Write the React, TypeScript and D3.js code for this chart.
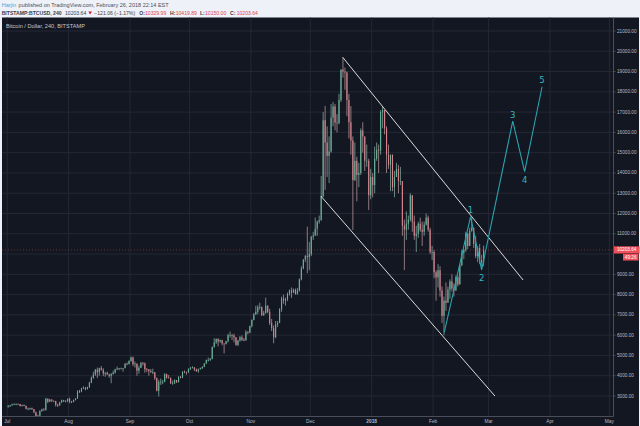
import React from "react";
import * as d3 from "d3";

// Daily candles: [high, low, close]; open = previous close
const firstOpen = 2480;
const jul17: [number, number, number][] = [
  [2560, 2420, 2500], [2560, 2460, 2540], [2620, 2520, 2590], [2640, 2560, 2600], [2630, 2540, 2610],
  [2630, 2570, 2600], [2610, 2480, 2510], [2570, 2490, 2560], [2580, 2500, 2510], [2530, 2340, 2370],
  [2430, 2300, 2380], [2420, 2310, 2400], [2430, 2320, 2350], [2360, 2150, 2200], [2230, 1980, 2010],
  [2080, 1960, 2030], [2300, 2010, 2260], [2380, 2220, 2330], [2400, 2270, 2300], [2900, 2290, 2870],
  [2880, 2650, 2720], [2860, 2700, 2820], [2840, 2700, 2760], [2780, 2700, 2750], [2760, 2480, 2560],
  [2620, 2460, 2540], [2720, 2520, 2680], [2820, 2670, 2790], [2810, 2710, 2740], [2790, 2680, 2760],
  [2880, 2700, 2860],
];
const aug17: [number, number, number][] = [
  [2920, 2640, 2720], [2760, 2650, 2710], [2830, 2690, 2800], [2900, 2780, 2880], [3280, 2860, 3230],
  [3300, 3150, 3220], [3400, 3180, 3380], [3480, 3340, 3410], [3440, 3280, 3340], [3460, 3320, 3430],
  [3700, 3410, 3660], [3960, 3630, 3900], [4200, 3850, 4060], [4330, 3990, 4300], [4400, 3890, 4170],
  [4400, 4000, 4370], [4480, 4250, 4290], [4370, 3980, 4110], [4190, 3950, 4140], [4200, 4040, 4060],
  [4100, 3900, 3990], [4130, 3630, 4080], [4250, 4060, 4150], [4340, 4110, 4310], [4450, 4280, 4360],
  [4380, 4270, 4340], [4400, 4310, 4360], [4380, 4200, 4380], [4620, 4360, 4590], [4650, 4520, 4570],
  [4760, 4560, 4730],
];
const sep17: [number, number, number][] = [
  [4950, 4690, 4900], [4940, 4470, 4570], [4700, 4400, 4600], [4600, 4000, 4250], [4490, 4100, 4390],
  [4680, 4380, 4620], [4680, 4500, 4610], [4650, 4150, 4320], [4380, 4180, 4310], [4320, 4000, 4230],
  [4330, 4150, 4170], [4350, 4080, 4170], [4180, 3790, 3880], [3920, 3230, 3260], [3800, 2980, 3700],
  [3860, 3550, 3700], [3790, 3580, 3700], [4120, 3680, 4080], [4100, 3850, 3910], [4040, 3860, 3880],
  [3920, 3600, 3610], [3760, 3560, 3620], [3820, 3600, 3790], [3790, 3640, 3680], [3980, 3670, 3930],
  [3990, 3870, 3890], [4220, 3880, 4200], [4260, 4120, 4190], [4200, 4050, 4160], [4360, 4150, 4340],
];
const oct17: [number, number, number][] = [
  [4420, 4280, 4400], [4470, 4360, 4410], [4430, 4230, 4310], [4360, 4190, 4220], [4350, 4150, 4320],
  [4400, 4300, 4370], [4460, 4330, 4440], [4620, 4420, 4600], [4800, 4580, 4770], [4900, 4700, 4770],
  [4870, 4730, 4830], [5440, 4810, 5420], [5850, 5380, 5640], [5830, 5560, 5820], [5840, 5450, 5690],
  [5780, 5620, 5750], [5770, 5500, 5590], [5590, 5100, 5570], [5720, 5540, 5700], [6070, 5640, 6000],
  [6180, 5880, 6010], [6060, 5760, 5980], [6070, 5650, 5900], [5900, 5480, 5520], [5760, 5460, 5740],
  [5960, 5680, 5890], [5990, 5710, 5770], [5860, 5700, 5750], [6250, 5720, 6150], [6200, 6040, 6130],
  [6470, 6100, 6450],
];
const nov17: [number, number, number][] = [
  [6780, 6380, 6750], [7100, 6730, 7030], [7450, 7000, 7150], [7480, 7030, 7380], [7600, 7260, 7380],
  [7420, 6950, 6980], [7200, 6960, 7100], [7850, 7060, 7460], [7460, 7080, 7140], [7300, 6500, 6600],
  [6800, 6200, 6340], [6480, 5600, 5900], [6700, 5850, 6530], [6700, 6400, 6600], [7330, 6600, 7280],
  [7900, 7150, 7810], [8000, 7550, 7710], [7850, 7460, 7780], [8100, 7680, 8040], [8250, 7950, 8200],
  [8350, 7840, 8100], [8300, 8080, 8240], [8300, 8000, 8030], [8330, 8000, 8200], [8800, 8150, 8750],
  [9400, 8700, 9290], [9750, 9250, 9730], [9950, 9600, 9900], [11350, 9060, 9850], [10600, 9200, 10000],
];
const dec17: [number, number, number][] = [
  [10900, 9900, 10850], [11100, 10700, 10910], [11800, 10900, 11250], [11650, 10900, 11600], [11900, 11500, 11670],
  [13850, 11650, 12850], [17000, 12800, 16600], [17300, 13160, 15500], [16300, 13800, 14840], [15800, 13500, 15060],
  [17400, 15000, 16730], [17500, 16300, 17280], [17400, 16100, 16480], [16900, 16000, 16460], [17900, 16400, 17600],
  [19100, 17500, 19100], [19700, 18700, 19000], [19200, 18100, 18950], [19000, 16800, 17600], [17900, 15700, 16500],
  [17300, 14900, 15600], [15800, 11190, 13650], [15500, 13600, 14600], [14800, 12600, 13900], [14500, 13300, 14000],
  [16200, 13900, 16100], [16500, 15000, 15800], [15800, 14100, 14600], [15400, 14300, 14600], [14700, 12170, 12900],
  [14200, 12700, 13800],
];
const jan18: [number, number, number][] = [
  [14000, 12800, 13400], [15300, 13000, 14700], [15500, 14600, 15150], [15400, 14000, 15100], [17100, 14900, 17000],
  [17250, 16200, 17100], [17100, 15900, 16200], [16300, 14000, 14900], [15400, 14200, 14400], [14900, 13100, 14900],
  [14900, 13100, 13300], [14100, 12800, 13800], [14500, 13800, 14200], [14400, 13000, 13600], [14300, 13400, 13600],
  [13600, 10900, 11400], [11700, 9210, 11200], [12100, 10700, 11500], [11900, 11200, 11700], [13000, 11600, 12900],
  [12900, 11100, 11600], [11900, 10700, 10900], [11400, 10100, 11000], [11600, 10800, 11500], [11800, 11100, 11200],
  [11600, 10400, 11100], [11600, 10900, 11450], [12000, 11400, 11800], [11900, 11100, 11200], [11300, 10000, 10100],
  [10400, 9700, 10100],
];
const feb18: [number, number, number][] = [
  [10200, 8800, 9100], [9200, 7700, 8850], [9500, 8350, 9200], [9400, 7900, 8200], [8400, 6600, 6950],
  [7900, 6000, 7700], [8600, 7200, 7600], [8400, 7600, 8250], [8750, 7800, 8650], [9000, 8150, 8300],
  [8550, 7900, 8200], [8950, 8200, 8850], [8950, 8400, 8500], [9500, 8500, 9450], [10200, 9400, 10050],
  [10250, 9750, 10200], [11100, 10100, 11000], [11050, 10250, 10400], [11300, 10400, 11150], [11800, 11100, 11300],
  [11300, 10300, 10500], [10900, 9800, 9900], [10400, 9600, 10300], [10500, 9500, 9700], [9950, 9300, 9600],
  [10420, 9400, 10203.64],
];

const priceTicks = [21000, 20000, 19000, 18000, 17000, 16000, 15000, 14000, 13000, 12000, 11000, 10000, 9000, 8000, 7000, 6000, 5000, 4000, 3000];
const monthTicks = ["2017-07-01", "2017-08-01", "2017-09-01", "2017-10-01", "2017-11-01", "2017-12-01", "2018-01-01", "2018-02-01", "2018-03-01", "2018-04-01", "2018-05-01"];
const monthLabels = ["Jul", "Aug", "Sep", "Oct", "Nov", "Dec", "2018", "Feb", "Mar", "Apr", "May"];

const upperChannel: [string, number][] = [["2017-12-17T10:00Z", 19700], ["2018-03-18T10:00Z", 8720]];
const lowerChannel: [string, number][] = [["2017-12-06T08:00Z", 12860], ["2018-03-04T05:00Z", 3000]];
const waveDates = ["2018-02-06T16:00Z", "2018-02-19T22:00Z", "2018-02-25T12:00Z", "2018-03-13T05:00Z", "2018-03-19T05:00Z", "2018-03-28T00:00Z"];
const wavePrices = [6150, 11850, 9215, 16560, 14060, 18250];
const waveLabels = ["", "1", "2", "3", "4", "5"];

const lastPrice = 10203.64;

export default function App() {
  const W = 640, H = 426;
  const panelTop = 17.5, axisY = 416.5, axisX = 613.5;
  const x = d3.scaleUtc().domain([new Date("2017-07-01T00:00Z"), new Date("2018-05-01T00:00Z")]).range([7.2, 609.4]);
  const y = d3.scaleLinear().domain([3000, 21000]).range([396, 31]);
  const all = [...jul17, ...aug17, ...sep17, ...oct17, ...nov17, ...dec17, ...jan18, ...feb18];
  const start = Date.UTC(2017, 6, 1);
  const day = 86400000;
  const line = d3.line<[Date, number]>().x(d => x(d[0])).y(d => y(d[1]));
  const toPts = (arr: [string, number][]) => arr.map(([d, p]) => [new Date(d), p] as [Date, number]);
  const wavePts = waveDates.map((d, i) => [new Date(d), wavePrices[i]] as [Date, number]);

  const sans = "'Liberation Sans', Arial, sans-serif";
  const red = "#e0454f";
  const dark = "#3a3d44";
  const h2y = 15.2;

  return (
    <svg width={W} height={H} style={{ position: "absolute", left: 0, top: 0 }} fontFamily={sans}>
      <defs>
        <clipPath id="plot"><rect x={2} y={panelTop} width={axisX - 2} height={axisY - panelTop} /></clipPath>
      </defs>
      <rect x={0} y={0} width={W} height={H} fill="#eef1f7" />
      <rect x={2} y={panelTop} width={637} height={H - panelTop} fill="#131722" />

      {/* header */}
      <text x={1.7} y={7.3} fontSize={5.5} fill="#3ca8de">Harjin</text>
      <text x={18.6} y={7.3} fontSize={5.5} fill="#4b4f57">published on TradingView.com, February 26, 2018 22:14 EST</text>
      <text x={1.7} y={h2y} fontSize={5.1} fontWeight="bold" fill={dark}>BITSTAMP:BTCUSD, 240</text>
      <text x={65} y={h2y} fontSize={5.1} fill={dark}>10203.64</text>
      <path d="M88.3,11.6 L92,11.6 L90.15,14.6 Z" fill="#d0202e" />
      <text x={94.3} y={h2y} fontSize={5.1} fill={dark}>−121.06 (−1.17%)</text>
      <text x={139.3} y={h2y} fontSize={5.1} fontWeight="bold" fill={dark}>O:</text>
      <text x={145} y={h2y} fontSize={5.1} fill={red}>10329.99</text>
      <text x={170} y={h2y} fontSize={5.1} fontWeight="bold" fill={dark}>H:</text>
      <text x={175.7} y={h2y} fontSize={5.1} fill={red}>10419.89</text>
      <text x={200} y={h2y} fontSize={5.1} fontWeight="bold" fill={dark}>L:</text>
      <text x={205} y={h2y} fontSize={5.1} fill={red}>10150.00</text>
      <text x={230} y={h2y} fontSize={5.1} fontWeight="bold" fill={dark}>C:</text>
      <text x={236.7} y={h2y} fontSize={5.1} fill={red}>10203.64</text>

      {/* grid */}
      {monthTicks.map((m, i) => (
        <line key={"v" + i} x1={x(new Date(m + "T00:00Z"))} x2={x(new Date(m + "T00:00Z"))} y1={panelTop} y2={axisY} stroke="#242834" strokeWidth={1} />
      ))}
      {priceTicks.map((p, i) => (
        <line key={"h" + i} x1={2} x2={axisX} y1={y(p)} y2={y(p)} stroke="#242834" strokeWidth={1} />
      ))}

      <text x={6} y={28} fontSize={5.6} fill="#c3c6ce">Bitcoin / Dollar, 240, BITSTAMP</text>

      <g clipPath="url(#plot)">
        <line x1={2} x2={axisX} y1={y(lastPrice)} y2={y(lastPrice)} stroke="#ef5350" strokeOpacity={0.5} strokeDasharray="1 2" strokeWidth={0.8} />
        {all.map((c, i) => {
          const o = i === 0 ? firstOpen : all[i - 1][2];
          const [hi, lo, cl] = c;
          const cx = x(new Date(start + i * day + day / 2));
          const up = cl >= o;
          const top = y(Math.max(o, cl));
          const h = Math.max(0.7, Math.abs(y(o) - y(cl)));
          return (
            <g key={i}>
              <line x1={cx} x2={cx} y1={y(hi)} y2={y(lo)} stroke={up ? "#8fb8ab" : "#c9a0a6"} strokeWidth={0.7} />
              <rect x={cx - 0.55} y={top} width={1.1} height={h} fill={up ? "#66b398" : "#d8838d"} />
            </g>
          );
        })}
        <path d={line(toPts(upperChannel)) || ""} fill="none" stroke="#dcdcdc" strokeWidth={1} />
        <path d={line(toPts(lowerChannel)) || ""} fill="none" stroke="#dcdcdc" strokeWidth={1} />
        <path d={line(wavePts) || ""} fill="none" stroke="#2aa3ad" strokeWidth={1.1} />
        {wavePts.map((p, i) => {
          if (!waveLabels[i]) return null;
          const prev = wavePrices[i - 1];
          const isTop = wavePrices[i] > prev;
          return (
            <text key={"w" + i} x={x(p[0])} y={y(p[1]) + (isTop ? -6.5 : 8.5)} fontSize={8.5} fill="#36b5bf" textAnchor="middle" dominantBaseline="central" fontFamily="'DejaVu Sans', sans-serif">{waveLabels[i]}</text>
          );
        })}
      </g>

      {/* axes */}
      <line x1={axisX} x2={axisX} y1={panelTop} y2={axisY} stroke="#4a4e5a" strokeWidth={1} />
      <line x1={2} x2={axisX} y1={axisY} y2={axisY} stroke="#4a4e5a" strokeWidth={1} />
      {priceTicks.filter(p => Math.abs(p - lastPrice) > 600).map((p, i) => (
        <g key={"pt" + i}>
          <line x1={axisX} x2={axisX + 2} y1={y(p)} y2={y(p)} stroke="#4a4e5a" />
          <text x={617} y={y(p)} fontSize={4.7} fill="#b8bbc4" dominantBaseline="central">{p.toFixed(2)}</text>
        </g>
      ))}
      {monthTicks.map((m, i) => (
        <text key={"mt" + i} x={x(new Date(m + "T00:00Z"))} y={421.5} fontSize={4.8} fill="#b8bbc4" textAnchor="middle" dominantBaseline="central" fontWeight={monthLabels[i] === "2018" ? "bold" : "normal"}>{monthLabels[i]}</text>
      ))}

      {/* last price labels */}
      <rect x={614} y={y(lastPrice) - 3.6} width={25.5} height={7.2} fill="#ef4f5b" />
      <text x={626.7} y={y(lastPrice)} fontSize={4.7} fill="#ffffff" textAnchor="middle" dominantBaseline="central">{lastPrice.toFixed(2)}</text>
      <rect x={623} y={y(lastPrice) + 4} width={15.5} height={6.6} fill="#ef4f5b" />
      <text x={630.7} y={y(lastPrice) + 7.3} fontSize={4.7} fill="#ffffff" textAnchor="middle" dominantBaseline="central">49:26</text>
    </svg>
  );
}
